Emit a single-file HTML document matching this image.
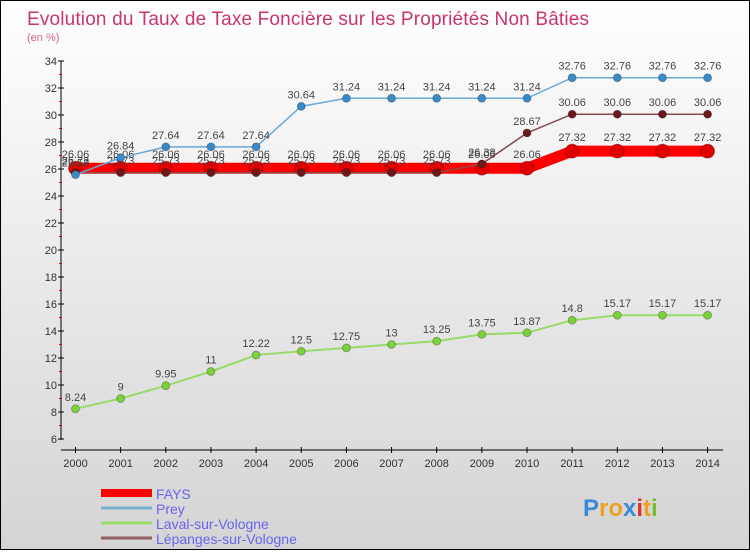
<!DOCTYPE html>
<html><head><meta charset="utf-8"><style>
body{margin:0}
#c{width:748px;height:548px;border:1px solid #000;background:linear-gradient(#fff,#d4d4d4);position:relative;font-family:"Liberation Sans",sans-serif}
</style></head><body>
<div id="c">
<svg id="s" width="748" height="548" xmlns="http://www.w3.org/2000/svg">
<text x="26" y="24" font-size="19" fill="#c8346e" font-family="Liberation Sans, sans-serif" textLength="562">Evolution du Taux de Taxe Foncière sur les Propriétés Non Bâties</text>
<text x="26" y="40" font-size="11" fill="#d06090">(en %)</text>
<g id="axes"></g><g id="series"></g><g id="legend"></g>
<text x="582" y="515" font-size="24" font-weight="bold" fill="#f0a020"><tspan fill="#3a8ad8">P</tspan>ro<tspan fill="#3a8ad8">x</tspan><tspan fill="#e03030">i</tspan>t<tspan fill="#70c030">i</tspan></text>
</svg></div>
<script>
const years=[2000,2001,2002,2003,2004,2005,2006,2007,2008,2009,2010,2011,2012,2013,2014];
const fays=[26.06,26.06,26.06,26.06,26.06,26.06,26.06,26.06,26.06,26.06,26.06,27.32,27.32,27.32,27.32];
const prey=[25.58,26.84,27.64,27.64,27.64,30.64,31.24,31.24,31.24,31.24,31.24,32.76,32.76,32.76,32.76];
const laval=[8.24,9,9.95,11,12.22,12.5,12.75,13,13.25,13.75,13.87,14.8,15.17,15.17,15.17];
const lepanges=[25.73,25.73,25.73,25.73,25.73,25.73,25.73,25.73,25.73,26.38,28.67,30.06,30.06,30.06,30.06];
const yTicks=[6,8,10,12,14,16,18,20,22,24,26,28,30,32,34];
const NS="http://www.w3.org/2000/svg";
const X=i=>74.5+i*45.15, Y=v=>60+(34-v)*13.5;
function mk(p,t,a){const e=document.createElementNS(NS,t);for(const k in a)e.setAttribute(k,a[k]);p.appendChild(e);return e;}
const ax=document.getElementById('axes');
let e=mk(ax,'line',{x1:60,y1:60,x2:60,y2:439,stroke:'#000'});

e=mk(ax,'line',{x1:60,y1:449,x2:722,y2:449,stroke:'#000'});

yTicks.forEach(v=>{mk(ax,'line',{x1:57,y1:Y(v),x2:63,y2:Y(v),stroke:'#000'});
 if(v<34)mk(ax,'line',{x1:58,y1:Y(v+1),x2:61,y2:Y(v+1),stroke:'#e00'});
 const t=mk(ax,'text',{x:56,y:Y(v)+4,'font-size':11,'text-anchor':'end',fill:'#333'});t.textContent=v;
 });
years.forEach((y,i)=>{mk(ax,'line',{x1:X(i),y1:446,x2:X(i),y2:452,stroke:'#000'});
 const t=mk(ax,'text',{x:X(i),y:466,'font-size':11,'text-anchor':'middle',fill:'#333'});t.textContent=y;
 });
const sg=document.getElementById('series');
function series(name,vals,col,w,r,fill,dy){
 const g=mk(sg,'g',{});
 mk(g,'polyline',{points:vals.map((v,i)=>X(i)+','+Y(v)).join(' '),fill:'none',stroke:col,'stroke-width':w});
 vals.forEach((v,i)=>{const c=mk(g,'circle',{cx:X(i),cy:Y(v),r:r,fill:fill,stroke:'rgba(0,0,0,0.25)'});
  
  const t=mk(g,'text',{x:X(i),y:Y(v)-dy,'font-size':11,'text-anchor':'middle',fill:'#444'});t.textContent=v;
  });
}
series('fays',fays,'#f00',11,7,'#e00000',10);
series('laval',laval,'#9ada6a',2,4,'#7cd03c',8);
series('lepanges',lepanges,'#8a4a4a',1.5,4,'#6a1a1a',8);
series('prey',prey,'#6aa8d8',1.5,4,'#3a8ac8',8);
const lg=document.getElementById('legend');
[['FAYS','#f00',8],['Prey','#7ab0d0',3],['Laval-sur-Vologne','#9ada6a',3],['Lépanges-sur-Vologne','#906060',3]].forEach((d,i)=>{
 const y=492+i*15;
 const l=mk(lg,'line',{x1:100,y1:y,x2:151,y2:y,stroke:d[1],'stroke-width':d[2]});
 
 const t=mk(lg,'text',{x:155,y:y+6,'font-size':14,fill:'#6666ee'});t.textContent=d[0];
 });
</script></body></html>
